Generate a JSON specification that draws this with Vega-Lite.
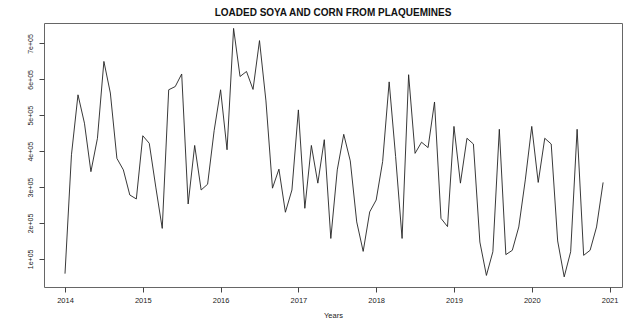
{
  "$schema": "https://vega.github.io/schema/vega-lite/v6.json",
  "autosize": "none",
  "width": 578,
  "height": 264,
  "padding": {"left": 44, "top": 23, "right": 21, "bottom": 37},
  "background": "white",
  "title": {
    "text": "LOADED SOYA AND CORN FROM PLAQUEMINES",
    "font": "Liberation Sans",
    "fontSize": 10,
    "fontWeight": "bold",
    "color": "#111",
    "anchor": "middle",
    "offset": 5
  },
  "config": {
    "view": {"stroke": "#666", "strokeWidth": 1},
    "font": "Liberation Sans"
  },
  "data": {
    "values": [
      {"year": 2014.000, "tons": 59000},
      {"year": 2014.083, "tons": 390000},
      {"year": 2014.167, "tons": 557000},
      {"year": 2014.250, "tons": 478000},
      {"year": 2014.333, "tons": 343000},
      {"year": 2014.417, "tons": 436000},
      {"year": 2014.500, "tons": 650000},
      {"year": 2014.583, "tons": 562000},
      {"year": 2014.667, "tons": 380000},
      {"year": 2014.750, "tons": 348000},
      {"year": 2014.833, "tons": 278000},
      {"year": 2014.917, "tons": 267000},
      {"year": 2015.000, "tons": 443000},
      {"year": 2015.083, "tons": 422000},
      {"year": 2015.167, "tons": 300000},
      {"year": 2015.250, "tons": 185000},
      {"year": 2015.333, "tons": 571000},
      {"year": 2015.417, "tons": 580000},
      {"year": 2015.500, "tons": 615000},
      {"year": 2015.583, "tons": 253000},
      {"year": 2015.667, "tons": 416000},
      {"year": 2015.750, "tons": 292000},
      {"year": 2015.833, "tons": 308000},
      {"year": 2015.917, "tons": 457000},
      {"year": 2016.000, "tons": 571000},
      {"year": 2016.083, "tons": 404000},
      {"year": 2016.167, "tons": 742000},
      {"year": 2016.250, "tons": 608000},
      {"year": 2016.333, "tons": 622000},
      {"year": 2016.417, "tons": 572000},
      {"year": 2016.500, "tons": 708000},
      {"year": 2016.583, "tons": 540000},
      {"year": 2016.667, "tons": 297000},
      {"year": 2016.750, "tons": 350000},
      {"year": 2016.833, "tons": 230000},
      {"year": 2016.917, "tons": 292000},
      {"year": 2017.000, "tons": 515000},
      {"year": 2017.083, "tons": 241000},
      {"year": 2017.167, "tons": 416000},
      {"year": 2017.250, "tons": 311000},
      {"year": 2017.333, "tons": 432000},
      {"year": 2017.417, "tons": 157000},
      {"year": 2017.500, "tons": 348000},
      {"year": 2017.583, "tons": 447000},
      {"year": 2017.667, "tons": 373000},
      {"year": 2017.750, "tons": 203000},
      {"year": 2017.833, "tons": 121000},
      {"year": 2017.917, "tons": 231000},
      {"year": 2018.000, "tons": 264000},
      {"year": 2018.083, "tons": 371000},
      {"year": 2018.167, "tons": 593000},
      {"year": 2018.250, "tons": 385000},
      {"year": 2018.333, "tons": 157000},
      {"year": 2018.417, "tons": 613000},
      {"year": 2018.500, "tons": 394000},
      {"year": 2018.583, "tons": 425000},
      {"year": 2018.667, "tons": 410000},
      {"year": 2018.750, "tons": 537000},
      {"year": 2018.833, "tons": 213000},
      {"year": 2018.917, "tons": 190000},
      {"year": 2019.000, "tons": 469000},
      {"year": 2019.083, "tons": 311000},
      {"year": 2019.167, "tons": 436000},
      {"year": 2019.250, "tons": 420000},
      {"year": 2019.333, "tons": 147000},
      {"year": 2019.417, "tons": 54000},
      {"year": 2019.500, "tons": 120000},
      {"year": 2019.583, "tons": 461000},
      {"year": 2019.667, "tons": 112000},
      {"year": 2019.750, "tons": 124000},
      {"year": 2019.833, "tons": 189000},
      {"year": 2019.917, "tons": 320000},
      {"year": 2020.000, "tons": 469000},
      {"year": 2020.083, "tons": 313000},
      {"year": 2020.167, "tons": 436000},
      {"year": 2020.250, "tons": 420000},
      {"year": 2020.333, "tons": 150000},
      {"year": 2020.417, "tons": 50000},
      {"year": 2020.500, "tons": 120000},
      {"year": 2020.583, "tons": 461000},
      {"year": 2020.667, "tons": 110000},
      {"year": 2020.750, "tons": 124000},
      {"year": 2020.833, "tons": 189000},
      {"year": 2020.917, "tons": 313000}
    ]
  },
  "mark": {"type": "line", "color": "#222", "strokeWidth": 0.9},
  "encoding": {
    "x": {
      "field": "year",
      "type": "quantitative",
      "scale": {"domain": [2013.73, 2021.16], "nice": false, "zero": false},
      "axis": {
        "values": [2014, 2015, 2016, 2017, 2018, 2019, 2020, 2021],
        "format": "d",
        "grid": false,
        "domain": false,
        "tickSize": 5,
        "tickColor": "#444",
        "labelFontSize": 7.5,
        "labelColor": "#222",
        "labelPadding": 4,
        "title": "Years",
        "titleFontSize": 7.5,
        "titleFontWeight": "normal",
        "titleColor": "#222",
        "titlePadding": 8
      }
    },
    "y": {
      "field": "tons",
      "type": "quantitative",
      "scale": {"domain": [21800, 757000], "nice": false, "zero": false},
      "axis": {
        "values": [100000, 200000, 300000, 400000, 500000, 600000, 700000],
        "labelExpr": "replace(format(datum.value, '.0e'), 'e+', 'e+0')",
        "grid": false,
        "domain": false,
        "tickSize": 5,
        "tickColor": "#444",
        "labelFontSize": 7,
        "labelColor": "#222",
        "labelAngle": 270,
        "labelAlign": "center",
        "labelBaseline": "bottom",
        "labelPadding": 6,
        "title": null
      }
    }
  }
}
